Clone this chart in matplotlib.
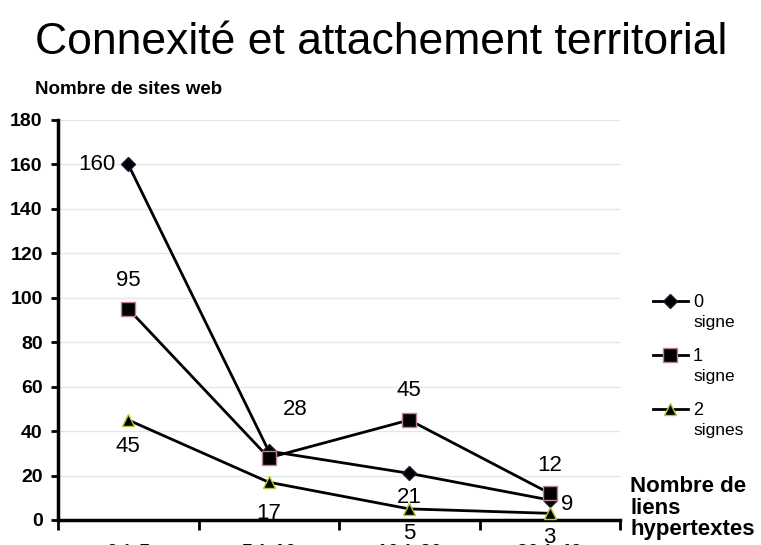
import matplotlib
matplotlib.use('Agg')
import matplotlib.pyplot as plt

# -----------------------------
# données
# -----------------------------
categories = ['0 à 5', '5 à 10', '10 à 20', '20 à 40']
series_names = ['0', '1', '2']
series_units = ['signe', 'signe', 'signes']
zero_signe = [160, 31, 21, 9]
un_signe = [95, 28, 45, 12]
deux_signes = [45, 17, 5, 3]
# étiquettes affichées (None = pas d'étiquette)
zero_labels = ['160', None, '21', '9']
un_labels = ['95', '28', '45', '12']
deux_labels = ['45', '17', '5', '3']
y_ticks = [0, 20, 40, 60, 80, 100, 120, 140, 160, 180]

plt.rcParams['font.family'] = ['Liberation Sans', 'DejaVu Sans']

fig = plt.figure(figsize=(7.61, 5.45), dpi=100)
ax = fig.add_axes([58 / 761, 25 / 545, (620 - 58) / 761, 400 / 545])

x = [i + 0.5 for i in range(len(categories))]

styles = [
    dict(marker='D', markersize=7.5, markerfacecolor='black', markeredgecolor='#1a1a3a'),
    dict(marker='s', markersize=10, markerfacecolor='black', markeredgecolor='#c08090'),
    dict(marker='^', markersize=9, markerfacecolor='black', markeredgecolor='#b8c830'),
]
all_series = [zero_signe, un_signe, deux_signes]
for vals, name, st in zip(all_series, series_names, styles):
    ax.plot(x, vals, color='black', linewidth=2.0, label=name, zorder=3, **st)

# positions des étiquettes (décalage en pixels)
offsets_zero = [(-31, 0), None, (0, -24), (17, -4)]
offsets_un = [(0, 28), (26, 48), (0, 29), (0, 28)]
offsets_deux = [(0, -27), (0, -31), (0, -25), (0, -24)]
for vals, labels, offs in [(zero_signe, zero_labels, offsets_zero),
                           (un_signe, un_labels, offsets_un),
                           (deux_signes, deux_labels, offsets_deux)]:
    for xi, v, lab, off in zip(x, vals, labels, offs):
        if lab is None:
            continue
        ax.annotate(lab, (xi, v), xytext=off, textcoords='offset pixels',
                    ha='center', va='center', fontsize=16, zorder=4)

ax.set_xlim(0, 4)
ax.set_ylim(0, 180)
ax.set_yticks(y_ticks)
ax.set_yticklabels([str(t) for t in y_ticks], fontsize=14, fontweight='bold')
ax.yaxis.grid(True, color='#e6e6e6', linewidth=1)
ax.set_axisbelow(True)

ax.set_xticks(range(len(categories) + 1))
ax.set_xticklabels([])
ax.set_xticks(x, minor=True)
ax.set_xticklabels(categories, minor=True, fontsize=14, fontweight='bold')
ax.tick_params(axis='x', which='minor', length=0, pad=17)
ax.tick_params(axis='x', which='major', length=7, width=2, direction='out')
ax.tick_params(axis='y', length=5, width=2, direction='out', pad=6)

for s in ['top', 'right']:
    ax.spines[s].set_visible(False)
for s in ['left', 'bottom']:
    ax.spines[s].set_linewidth(2.5)

fig.text(35 / 761, 1 - 42 / 545, 'Connexité et attachement territorial',
         fontsize=32, va='center', ha='left')
fig.text(35 / 761, 1 - 90 / 545, 'Nombre de sites web',
         fontsize=13.5, fontweight='bold', va='center', ha='left')
fig.text(630 / 761, 1 - 508 / 545, 'Nombre de\nliens\nhypertextes',
         fontsize=16, fontweight='bold', va='center', ha='left',
         linespacing=1.05)

leg = fig.legend(loc='upper left', bbox_to_anchor=(646 / 761, 1 - 287 / 545),
                 frameon=False, fontsize=13, handlelength=1.9, handletextpad=0.3,
                 labelspacing=2.05, borderaxespad=0)

# deuxième ligne des libellés de légende, sous chaque entrée
fig.canvas.draw()
inv = fig.transFigure.inverted()
for t, unit in zip(leg.get_texts(), series_units):
    bb = t.get_window_extent()
    x0, y0 = inv.transform((bb.x0, bb.y0))
    fig.text(x0 + 1 / 761, y0 - 4 / 545, unit, fontsize=12.5, va='top', ha='left')

fig.savefig('out.png', dpi=100)
